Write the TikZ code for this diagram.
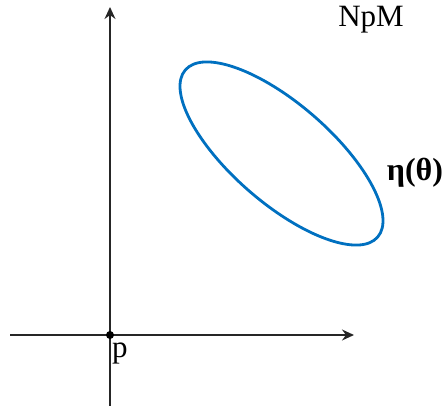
\documentclass[tikz,border=0pt]{standalone}
\usepackage{fontspec}
\setmainfont{Liberation Serif}
\usepackage{xcolor}
\usetikzlibrary{arrows.meta,positioning}
\definecolor{curveblue}{RGB}{0,112,192}

\begin{document}
\begin{tikzpicture}[
  x=1pt, y=-1pt,
  axis/.style={-{Stealth[length=12pt, width=11pt]}, line width=1.4pt, black!85},
  curve/.style={draw=curveblue, line width=2.8pt},
  lbl/.style={font=\fontsize{31}{34}\selectfont, inner sep=0pt}
]
\useasboundingbox (0,0) rectangle (447,406);
% axes
\coordinate (p) at (110,335);
\coordinate (xstart) at (10,335);
\coordinate (xend) at (354,335);
\coordinate (ystart) at (110,406);
\coordinate (yend) at (110,7);
\draw[axis] (xstart) -- (xend);
\draw[axis] (ystart) -- (yend);
\fill[black] (p) circle (4pt);
\node[lbl, anchor=north west] (plabel) at (112,343) {p};
% manifold and curve
\node[lbl] (npm) at (371,20) {NpM};
\draw[curve] (281.5,153.5) ellipse[x radius=127.4, y radius=49.5, rotate=-41];
\node[font=\bfseries\fontsize{32}{35}\selectfont, inner sep=0pt] (eta) at (415,173) {η(θ)};
\end{tikzpicture}
\end{document}
